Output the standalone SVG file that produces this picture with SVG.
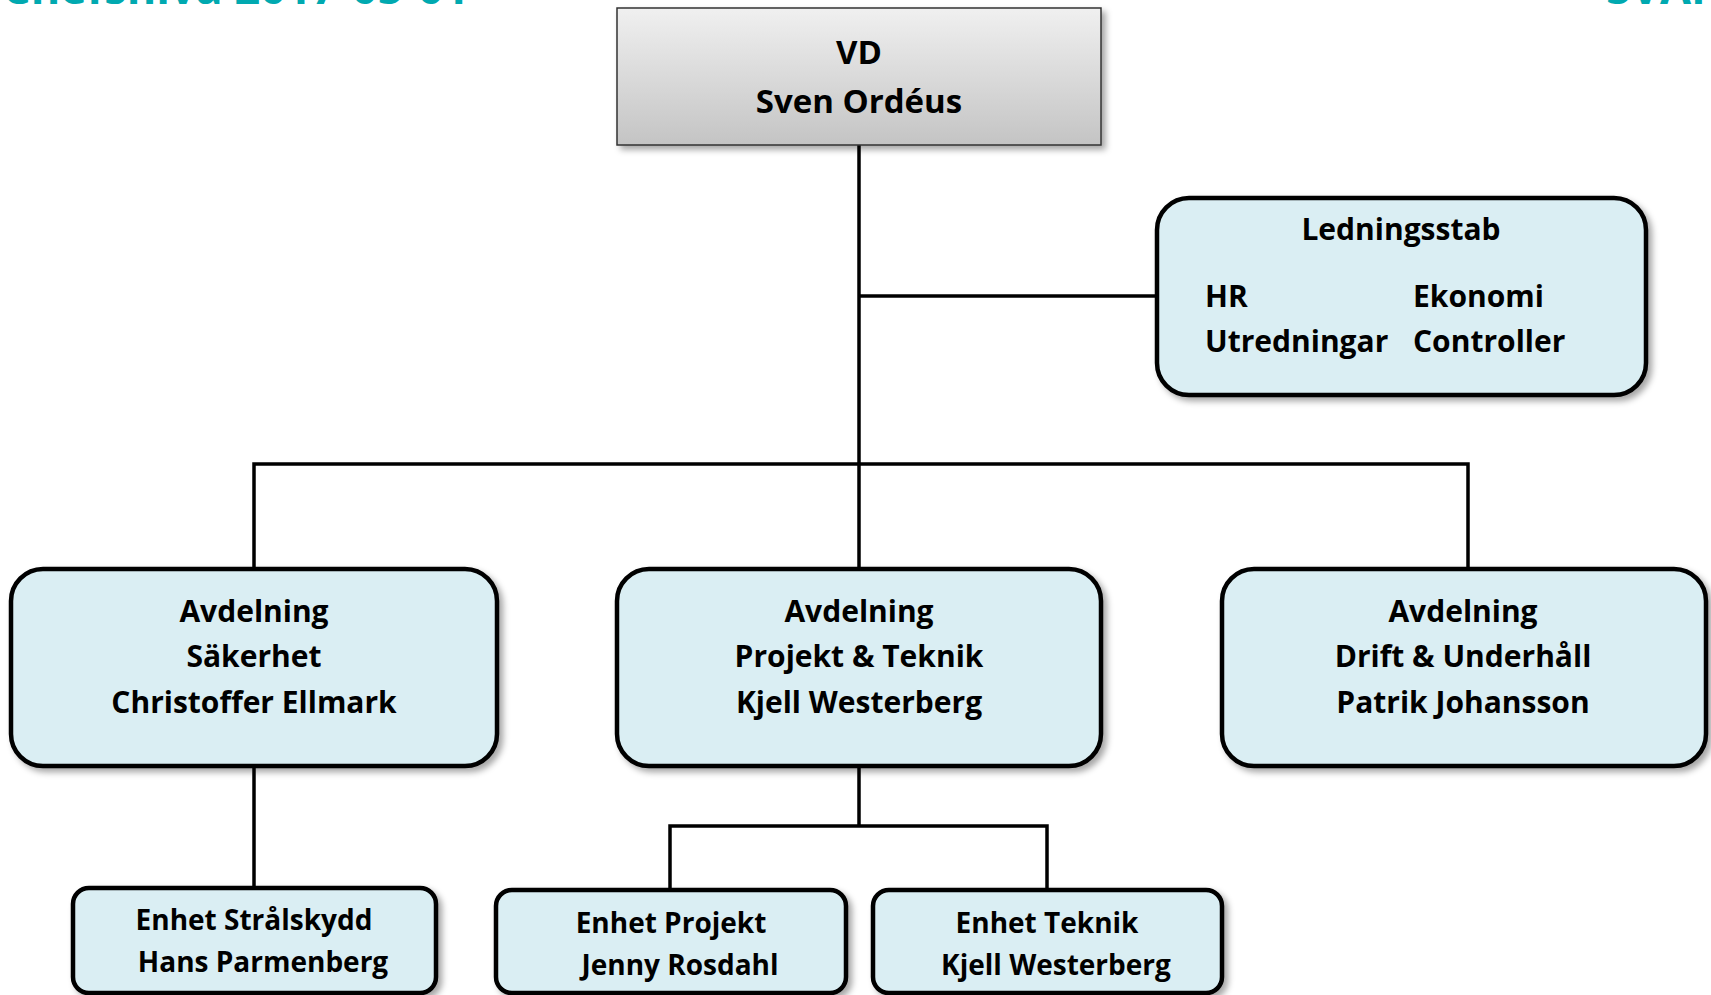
<svg xmlns="http://www.w3.org/2000/svg" width="1711" height="995" viewBox="0 0 1711 995">
<style>
.t{font-family:"Open Sans","Liberation Sans",sans-serif;font-weight:700;fill:#000;}
.c{text-anchor:middle;}
.box{fill:#DAEEF3;stroke:#000;stroke-width:4.5;filter:url(#sh);}
.con{fill:none;stroke:#000;stroke-width:3.5;}
.hd{font-family:"Open Sans","Liberation Sans",sans-serif;font-weight:700;fill:#00A9B0;font-size:45px;}
</style>
<defs>
<linearGradient id="gr" x1="0" y1="0" x2="0" y2="1">
<stop offset="0" stop-color="#F0F0F0"/>
<stop offset="1" stop-color="#C4C4C4"/>
</linearGradient>
<filter id="sh" x="-10%" y="-10%" width="125%" height="130%">
<feDropShadow dx="4" dy="4" stdDeviation="3" flood-color="#000" flood-opacity="0.35"/>
</filter>
</defs>
<rect width="1711" height="995" fill="#fff"/>
<text class="hd" x="2" y="4">Chefsnivå 2017-05-01</text>
<text class="hd" x="1606" y="4">SVAFO</text>
<g id="connectors">
<path class="con" d="M859 145 V570"/>
<path class="con" d="M859 296 H1157"/>
<path class="con" d="M254 570 V464 H1468 V570"/>
<path class="con" d="M254 766 V888"/>
<path class="con" d="M859 766 V826 M670 889 V826 H1047 V889"/>
</g>
<g id="vd">
<rect x="617" y="8" width="484" height="137" fill="url(#gr)" stroke="#333" stroke-width="1.5" filter="url(#sh)"/>
<text class="t c" x="859" y="64" font-size="33">VD</text>
<text class="t c" x="859" y="113" font-size="33">Sven Ordéus</text>
</g>
<g id="ledningsstab">
<rect class="box" x="1157" y="198" width="489" height="197" rx="32"/>
<text class="t c" x="1401" y="240" font-size="30">Ledningsstab</text>
<text class="t" x="1205" y="307" font-size="30">HR</text>
<text class="t" x="1205" y="352" font-size="30">Utredningar</text>
<text class="t" x="1413" y="307" font-size="30">Ekonomi</text>
<text class="t" x="1413" y="352" font-size="30">Controller</text>
</g>
<g id="sakerhet">
<rect class="box" x="11" y="569" width="486" height="197" rx="32"/>
<text class="t c" x="254" y="622" font-size="30">Avdelning</text>
<text class="t c" x="254" y="667" font-size="30">Säkerhet</text>
<text class="t c" x="254" y="713" font-size="30">Christoffer Ellmark</text>
</g>
<g id="projekt-teknik">
<rect class="box" x="617" y="569" width="484" height="197" rx="32"/>
<text class="t c" x="859" y="622" font-size="30">Avdelning</text>
<text class="t c" x="859" y="667" font-size="30">Projekt &amp; Teknik</text>
<text class="t c" x="859" y="713" font-size="30">Kjell Westerberg</text>
</g>
<g id="drift">
<rect class="box" x="1222" y="569" width="484" height="197" rx="32"/>
<text class="t c" x="1463" y="622" font-size="30">Avdelning</text>
<text class="t c" x="1463" y="667" font-size="30">Drift &amp; Underhåll</text>
<text class="t c" x="1463" y="713" font-size="30">Patrik Johansson</text>
</g>
<g id="stralskydd">
<rect class="box" x="73" y="888" width="363" height="105" rx="16"/>
<text class="t c" x="254" y="930" font-size="28">Enhet Strålskydd</text>
<text class="t c" x="263" y="972" font-size="28">Hans Parmenberg</text>
</g>
<g id="enhet-projekt">
<rect class="box" x="496" y="890" width="350" height="103" rx="16"/>
<text class="t c" x="671" y="933" font-size="28">Enhet Projekt</text>
<text class="t c" x="680" y="975" font-size="28">Jenny Rosdahl</text>
</g>
<g id="enhet-teknik">
<rect class="box" x="873" y="890" width="349" height="103" rx="16"/>
<text class="t c" x="1047" y="933" font-size="28">Enhet Teknik</text>
<text class="t c" x="1056" y="975" font-size="28">Kjell Westerberg</text>
</g>
</svg>
